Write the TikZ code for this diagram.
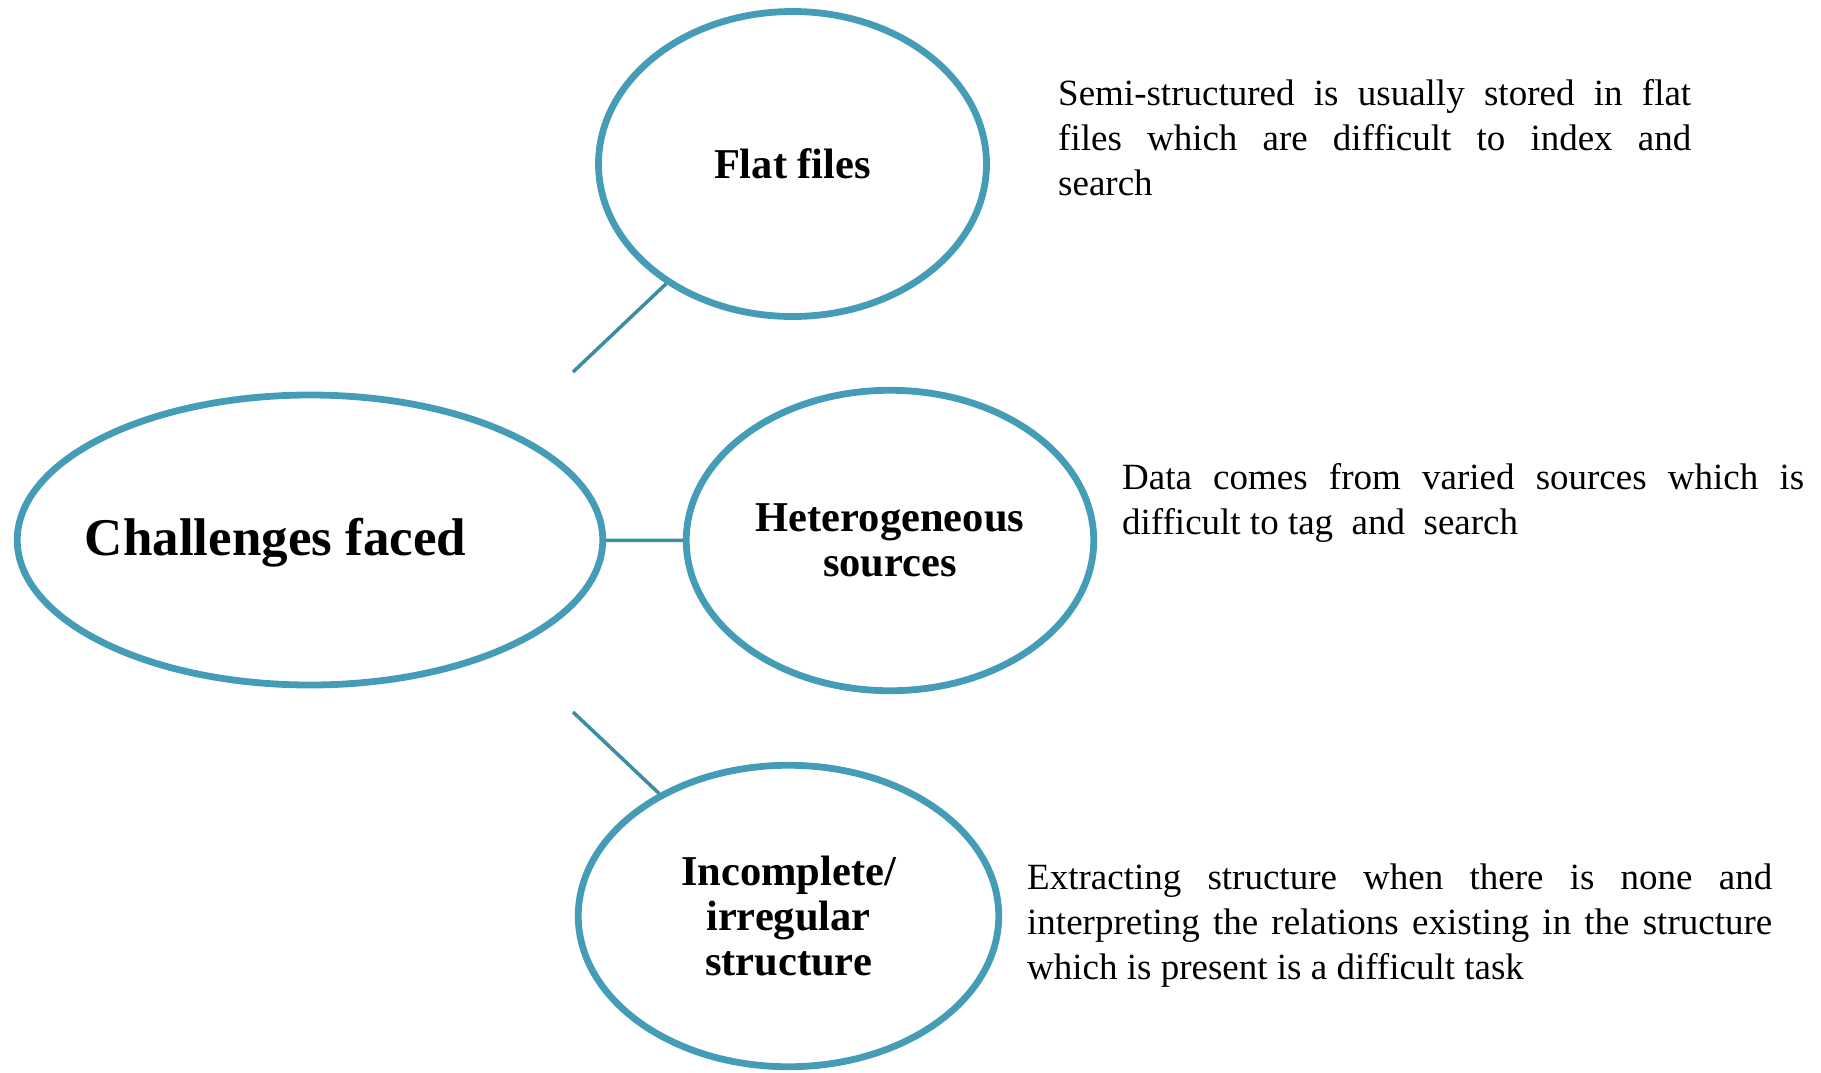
\documentclass[tikz,border=0pt]{standalone}
\usepackage{fontspec}
\setmainfont{Liberation Serif}
\usetikzlibrary{shapes.geometric}
\definecolor{ovalBlue}{RGB}{69,156,182}
\definecolor{linkBlue}{RGB}{60,140,164}

\begin{document}
\begin{tikzpicture}[x=1pt,y=-1pt,
    oval/.style={ellipse, draw=ovalBlue, line width=6.8pt, inner sep=0pt, align=center,
      font=\bfseries\fontsize{42.5}{45}\selectfont},
    link/.style={linkBlue, line width=3.5pt},
    note/.style={anchor=north west, inner sep=0pt, align=justify,
      font=\fontsize{37}{45}\selectfont}]
    \useasboundingbox (0,0) rectangle (1821,1072);

    % centre oval, label sits a little left of its centre
    \node[oval, minimum width=585.5pt, minimum height=290pt] (challenges) at (310,540) {};
    \node[anchor=base, inner sep=0pt, font=\bfseries\fontsize{53}{60}\selectfont] (challengestext) at (275.5,555) {Challenges faced};

    \node[oval, minimum width=388pt, minimum height=305pt] (flat) at (792.5,164) {Flat files};
    \node[oval, minimum width=407.5pt, minimum height=300.5pt] (hetero) at (890,540.5) {Heterogeneous\\sources};
    \node[oval, minimum width=420.5pt, minimum height=301.5pt] (irregular) at (788.5,916) {Incomplete/\\irregular\\structure};

    \coordinate (flatstub) at (573,372);
    \coordinate (irregstub) at (573,712);
    \draw[link] (flatstub) -- (flat);
    \draw[link] (challenges) -- (hetero);
    \draw[link] (irregstub) -- (irregular);

    % notes on the right
    \node[note, text width=633pt] (flatnote) at (1058,79)
        {Semi-structured is usually stored in flat\linebreak files which are difficult to index and\linebreak search};
    \node[note, text width=682pt] (heteronote) at (1122,463)
        {Data comes from varied sources which is\linebreak difficult to tag\ \ and\ \ search};
    \node[note, text width=745pt] (irregnote) at (1027,863.5)
        {Extracting structure when there is none and\linebreak interpreting the relations existing in the structure\linebreak which is present is a difficult task};
\end{tikzpicture}
\end{document}
